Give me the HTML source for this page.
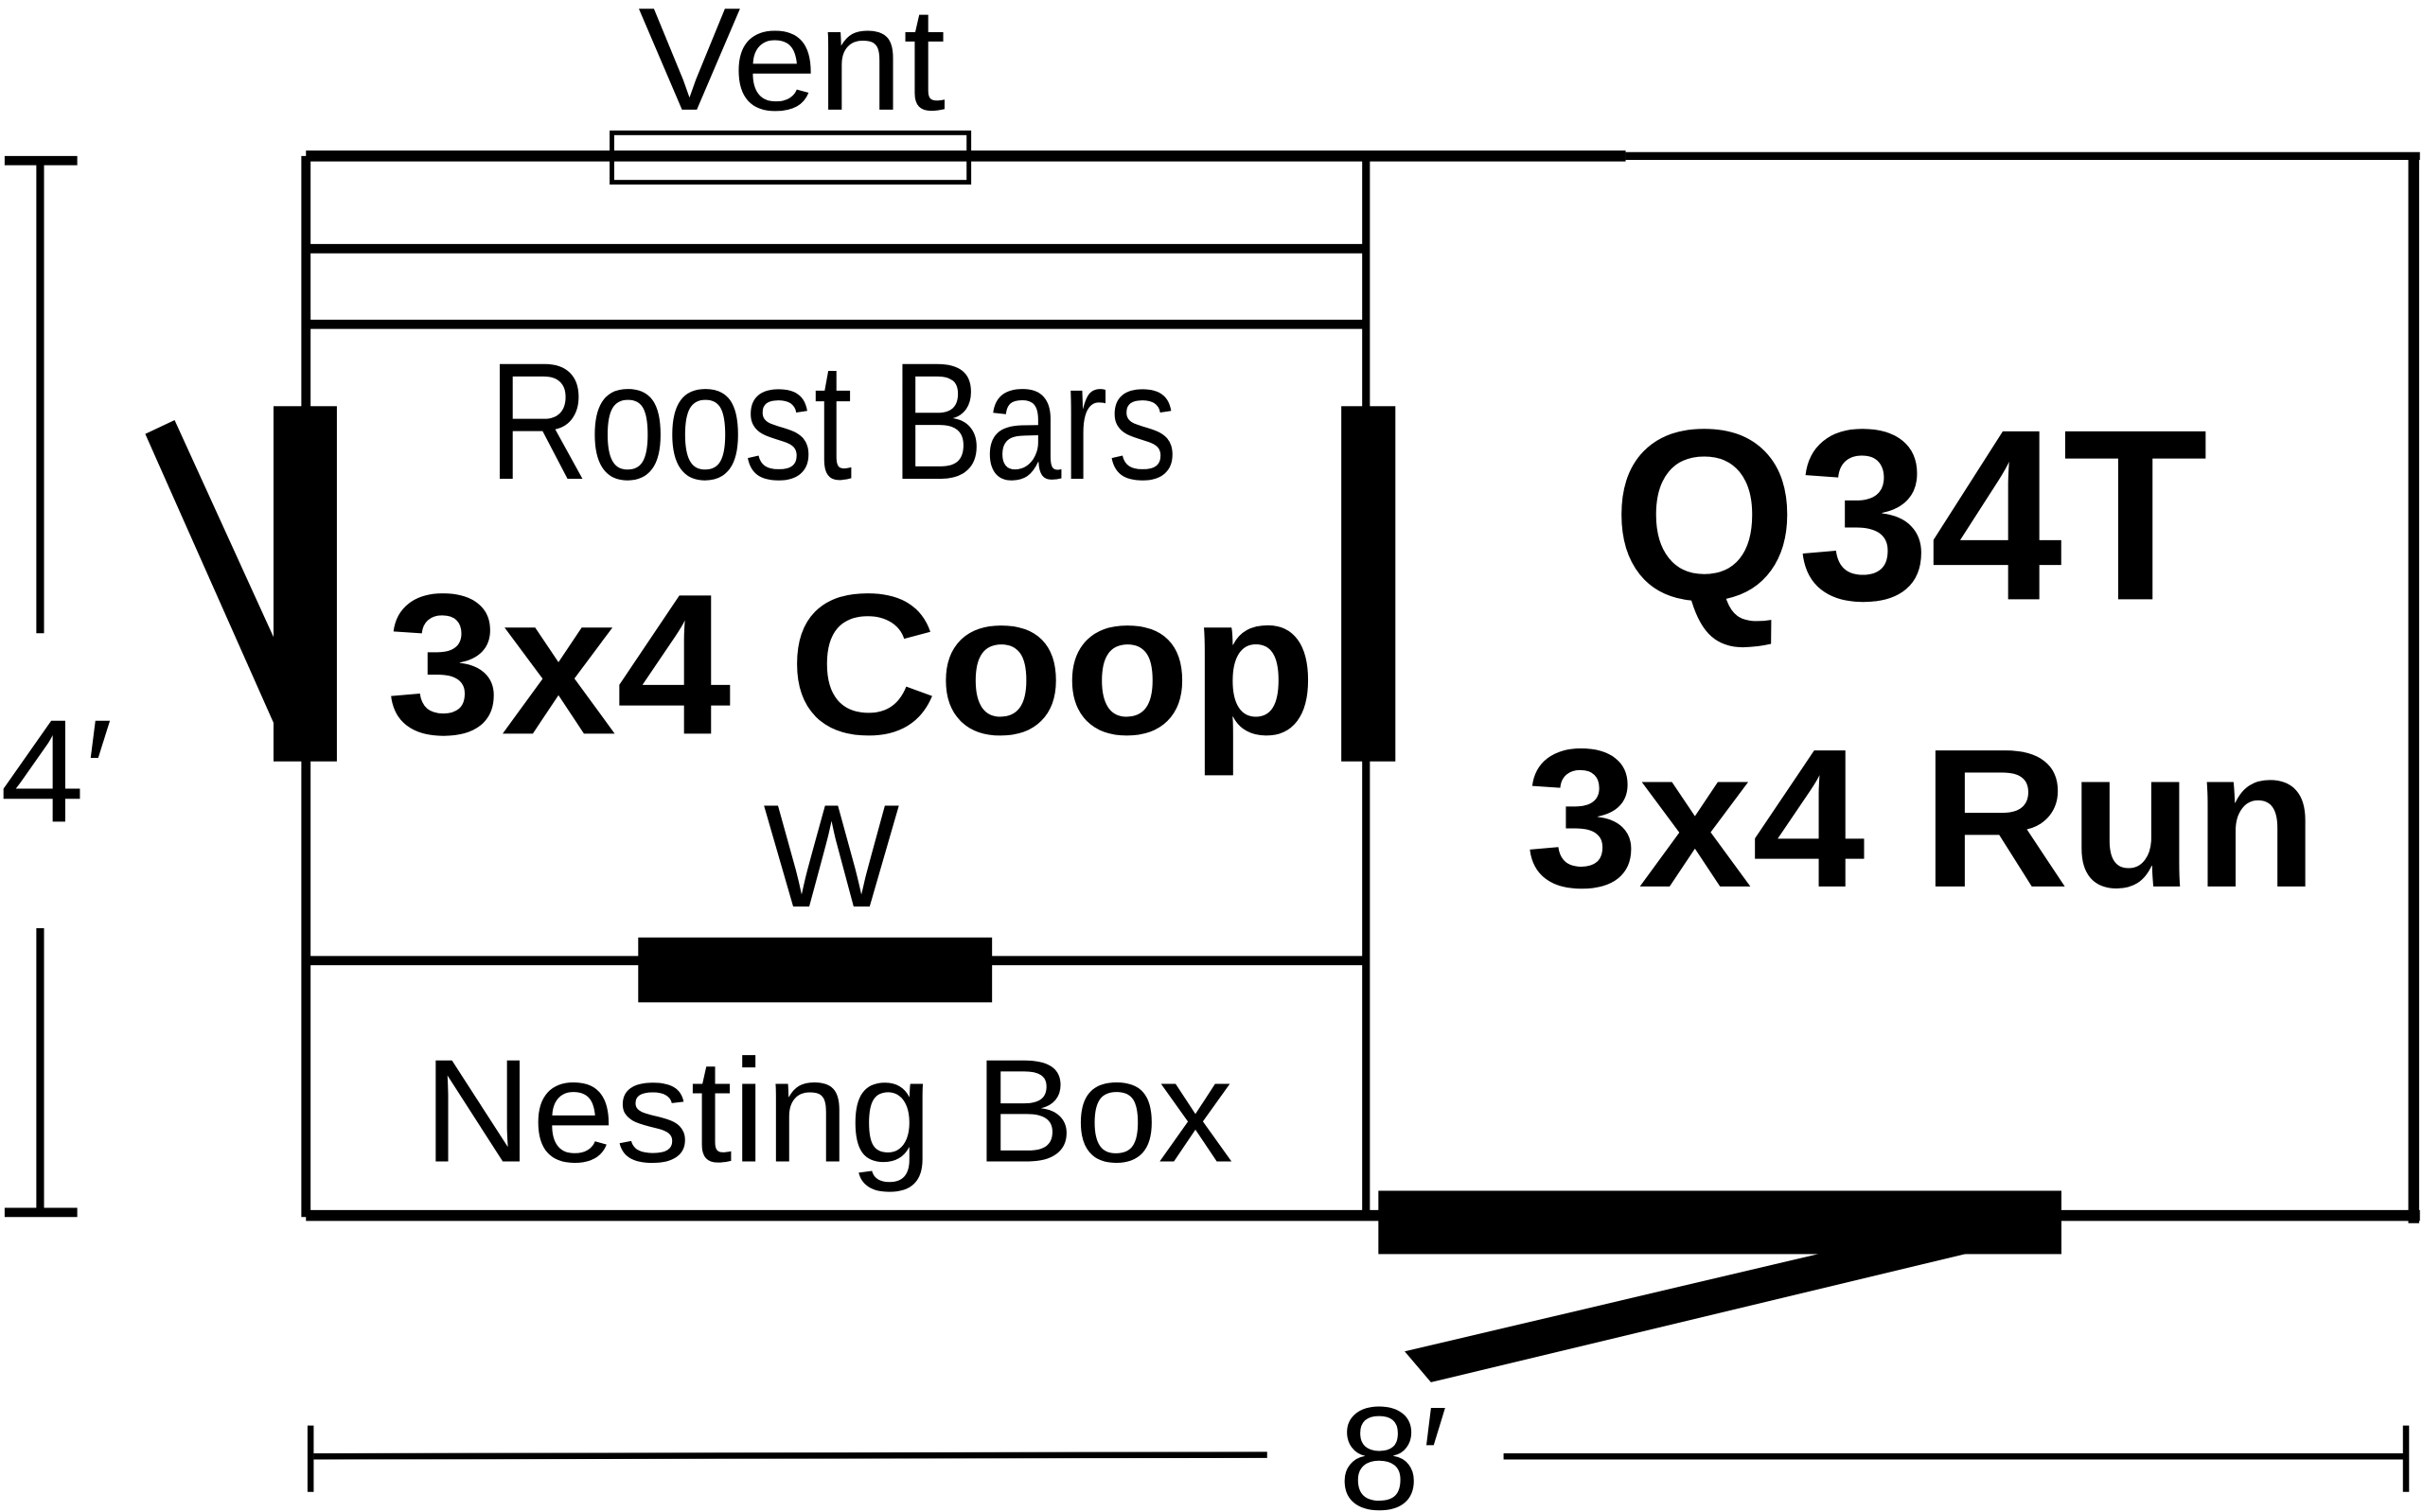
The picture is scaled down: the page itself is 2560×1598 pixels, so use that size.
<!DOCTYPE html>
<html><head><meta charset="utf-8"><style>
html,body{margin:0;padding:0;background:#fff;overflow:hidden}
svg{display:block}
text{font-family:"Liberation Sans",sans-serif;fill:#000}
</style></head><body>
<svg width="2560" height="1598" viewBox="0 0 1568 979" preserveAspectRatio="none" xmlns="http://www.w3.org/2000/svg">
<g stroke="#000" fill="none">
<line x1="198" y1="101" x2="1052" y2="101" stroke-width="7"/>
<line x1="1052" y1="101" x2="1566" y2="101" stroke-width="5"/>
<line x1="198" y1="101" x2="198" y2="788" stroke-width="6"/>
<line x1="884" y1="101" x2="884" y2="785" stroke-width="5"/>
<line x1="1562" y1="101" x2="1562" y2="792" stroke-width="7"/>
<line x1="198" y1="787" x2="1566" y2="787" stroke-width="7"/>
<line x1="198" y1="161" x2="884" y2="161" stroke-width="6"/>
<line x1="198" y1="210" x2="884" y2="210" stroke-width="6"/>
<line x1="198" y1="622" x2="884" y2="622" stroke-width="6"/>
<rect x="396" y="86" width="231" height="32" stroke-width="3"/>
<line x1="26" y1="104" x2="26" y2="410" stroke-width="5"/>
<line x1="26" y1="601" x2="26" y2="785" stroke-width="5"/>
<line x1="3" y1="104" x2="50" y2="104" stroke-width="6"/>
<line x1="3" y1="785" x2="50" y2="785" stroke-width="6"/>
<line x1="203" y1="943" x2="820" y2="942" stroke-width="4"/>
<line x1="973" y1="943" x2="1556" y2="943" stroke-width="4"/>
<line x1="201" y1="923" x2="201" y2="966" stroke-width="4"/>
<line x1="1557" y1="923" x2="1557" y2="966" stroke-width="4"/>
</g>
<g fill="#000">
<rect x="177" y="263" width="41" height="230"/>
<polygon points="94,281 113,272 185,430 185,470 177,468"/>
<rect x="868" y="263" width="35" height="230"/>
<rect x="413" y="607" width="229" height="42"/>
<rect x="892" y="771" width="442" height="41"/>
<polygon points="909,875 1185,810 1280,810 926,895"/>
</g>
<text x="413" y="71" font-size="95" textLength="199" lengthAdjust="spacingAndGlyphs">Vent</text>
<text x="316" y="310" font-size="108" textLength="446" lengthAdjust="spacingAndGlyphs">Roost Bars</text>
<text x="250" y="475" font-size="130" font-weight="bold" textLength="602" lengthAdjust="spacingAndGlyphs">3x4 Coop</text>
<text x="494" y="587" font-size="95" textLength="88" lengthAdjust="spacingAndGlyphs">W</text>
<text x="274" y="752" font-size="95" textLength="524" lengthAdjust="spacingAndGlyphs">Nesting Box</text>
<text x="1043" y="388" font-size="158" font-weight="bold" textLength="386" lengthAdjust="spacingAndGlyphs">Q34T</text>
<text x="987" y="574" font-size="128" font-weight="bold" textLength="513" lengthAdjust="spacingAndGlyphs">3x4 Run</text>
<text x="0" y="532" font-size="95" textLength="73" lengthAdjust="spacingAndGlyphs">4′</text>
<text x="866" y="977" font-size="95" textLength="71" lengthAdjust="spacingAndGlyphs">8′</text>
</svg>
</body></html>
